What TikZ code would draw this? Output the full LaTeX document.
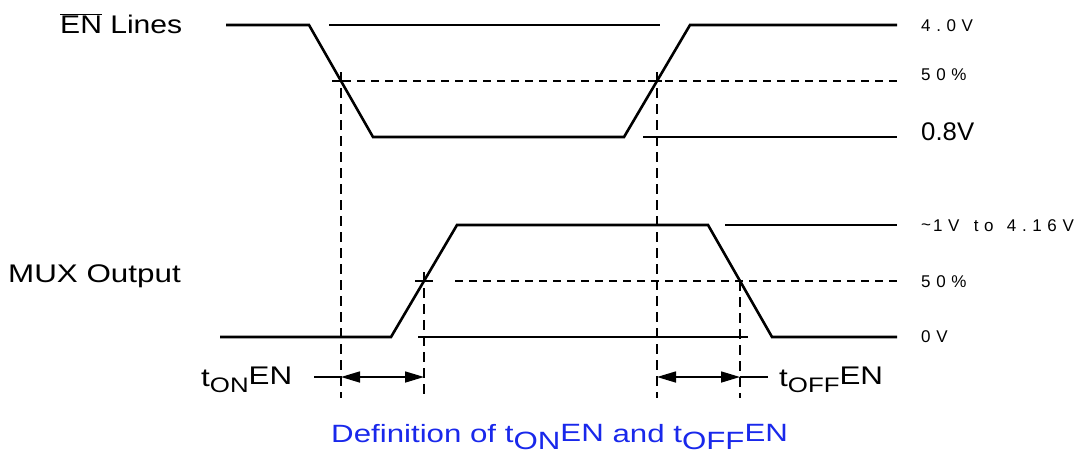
\documentclass[tikz,border=0pt]{standalone}
\usepackage{fontspec}
\usepackage{graphicx}
\setmainfont{Liberation Sans}
\newfontfamily\spaced[LetterSpace=33]{Liberation Sans}
\usetikzlibrary{arrows.meta}
\definecolor{capblue}{RGB}{25,40,235}
\newcommand{\xs}[2]{\scalebox{#1}[1]{#2}}
\newcommand{\tlabel}[2]{t\raisebox{-6pt}{\fontsize{21}{21}\selectfont #1}\raisebox{2pt}{EN}}
\newcommand{\tcap}[1]{t\raisebox{-7pt}{#1}\raisebox{1pt}{EN}}
\begin{document}
\begin{tikzpicture}[x=1pt,y=-1pt,
  wave/.style={line width=2.6pt,line join=miter},
  refl/.style={line width=1.6pt},
  dsh/.style={line width=1.6pt,dash pattern=on 8pt off 6pt},
  vdsh/.style={line width=1.6pt,dash pattern=on 10pt off 6pt},
  cross/.style={line width=1.4pt},
  dim/.style={line width=1.6pt,{Triangle[length=19pt,width=11pt]}-{Triangle[length=19pt,width=11pt]}},
  big/.style={font=\fontsize{25.5}{28}\selectfont,inner sep=0pt,anchor=base west},
  small/.style={font=\fontsize{17}{19}\spaced,inner sep=0pt,anchor=base west},
  tlab/.style={font=\fontsize{25.5}{28}\selectfont,inner sep=0pt,anchor=base west}]
\useasboundingbox (0,0) rectangle (1077,456);
% EN waveform
\coordinate (e0) at (226,25);
\coordinate (e1) at (309,25);
\coordinate (e2) at (373,137);
\coordinate (e3) at (624,137);
\coordinate (e4) at (690,25);
\coordinate (e5) at (897,25);
\coordinate (ea) at (341,81);
\coordinate (eb) at (657,81);
\draw[wave] (e0) -- (e1) -- (e2) -- (e3) -- (e4) -- (e5);
% EN reference lines
\coordinate (r1a) at (329,25); \coordinate (r1b) at (660,25);
\draw[refl] (r1a) -- (r1b);
\coordinate (r2a) at (343,81); \coordinate (r2b) at (897,81);
\draw[dsh] (r2a) -- (r2b);
\coordinate (r3a) at (643,137); \coordinate (r3b) at (897,137);
\draw[refl] (r3a) -- (r3b);
% crosshairs EN
\draw[cross] ([xshift=-9pt]ea) -- ([xshift=9pt]ea);
\draw[cross] ([xshift=-9pt]eb) -- ([xshift=5pt]eb);
% MUX waveform
\coordinate (m0) at (220,337);
\coordinate (m1) at (391,337);
\coordinate (m2) at (457,225);
\coordinate (m3) at (708,225);
\coordinate (m4) at (772,337);
\coordinate (m5) at (897,337);
\coordinate (ma) at (424,281);
\coordinate (mb) at (740,281);
\draw[wave] (m0) -- (m1) -- (m2) -- (m3) -- (m4) -- (m5);
\coordinate (q1a) at (725,225); \coordinate (q1b) at (897,225);
\draw[refl] (q1a) -- (q1b);
\coordinate (q2a) at (455,281); \coordinate (q2b) at (897,281);
\draw[dsh] (q2a) -- (q2b);
\coordinate (q3a) at (418,337); \coordinate (q3b) at (748,337);
\draw[refl] (q3a) -- (q3b);
\draw[cross] ([xshift=-9pt]ma) -- ([xshift=9pt]ma);
\draw[cross] ([yshift=-9pt]mb) -- ([yshift=0pt]mb);
% vertical dashed lines
\coordinate (v1t) at (341,72); \coordinate (v1b) at (341,398);
\coordinate (v2t) at (657,72); \coordinate (v2b) at (657,398);
\coordinate (v3t) at (424,272); \coordinate (v3b) at (424,398);
\coordinate (v4t) at (740,281); \coordinate (v4b) at (740,398);
\draw[vdsh] (v1t) -- (v1b);
\draw[vdsh] (v2t) -- (v2b);
\draw[vdsh] (v3t) -- (v3b);
\draw[vdsh] (v4t) -- (v4b);
% dimension arrows
\coordinate (a1) at (341,377); \coordinate (a2) at (424,377);
\coordinate (a0) at (314,377);
\coordinate (b1) at (657,377); \coordinate (b2) at (740,377);
\coordinate (b3) at (768,377);
\draw[refl] (a0) -- (a1);
\draw[dim] (a1) -- (a2);
\draw[dim] (b1) -- (b2);
\draw[refl] (b2) -- (b3);
% labels
\node[big] (enl) at (60,33) {\xs{1.18}{$\overline{\mbox{EN}}$ Lines}};
\node[big] (muxl) at (8,282) {\xs{1.23}{MUX Output}};
\node[small] (l40) at (921,31) {4.0V};
\node[small] (l50a) at (921,80) {50\%};
\node[big] (l08) at (921,140) {\xs{1.01}{0.8V}};
\node[small] (l416) at (921,231) {\raisebox{1pt}{\char"007E}\hspace{2pt}1V\hspace{4pt} to\hspace{3pt} 4.16V};
\node[small] (l50b) at (921,287) {50\%};
\node[small] (l0v) at (921,342) {0V};
\node[tlab] (ton) at (201,386) {\xs{1.23}{\tlabel{ON}{}}};
\node[tlab] (toff) at (779,386) {\xs{1.23}{\tlabel{OFF}{}}};
\node[font=\fontsize{25}{28}\selectfont,inner sep=0pt,anchor=base west,text=capblue] (cap) at (331,442)
  {\xs{1.25}{Definition of \tcap{ON} and \tcap{OFF}}};
\end{tikzpicture}
\end{document}
